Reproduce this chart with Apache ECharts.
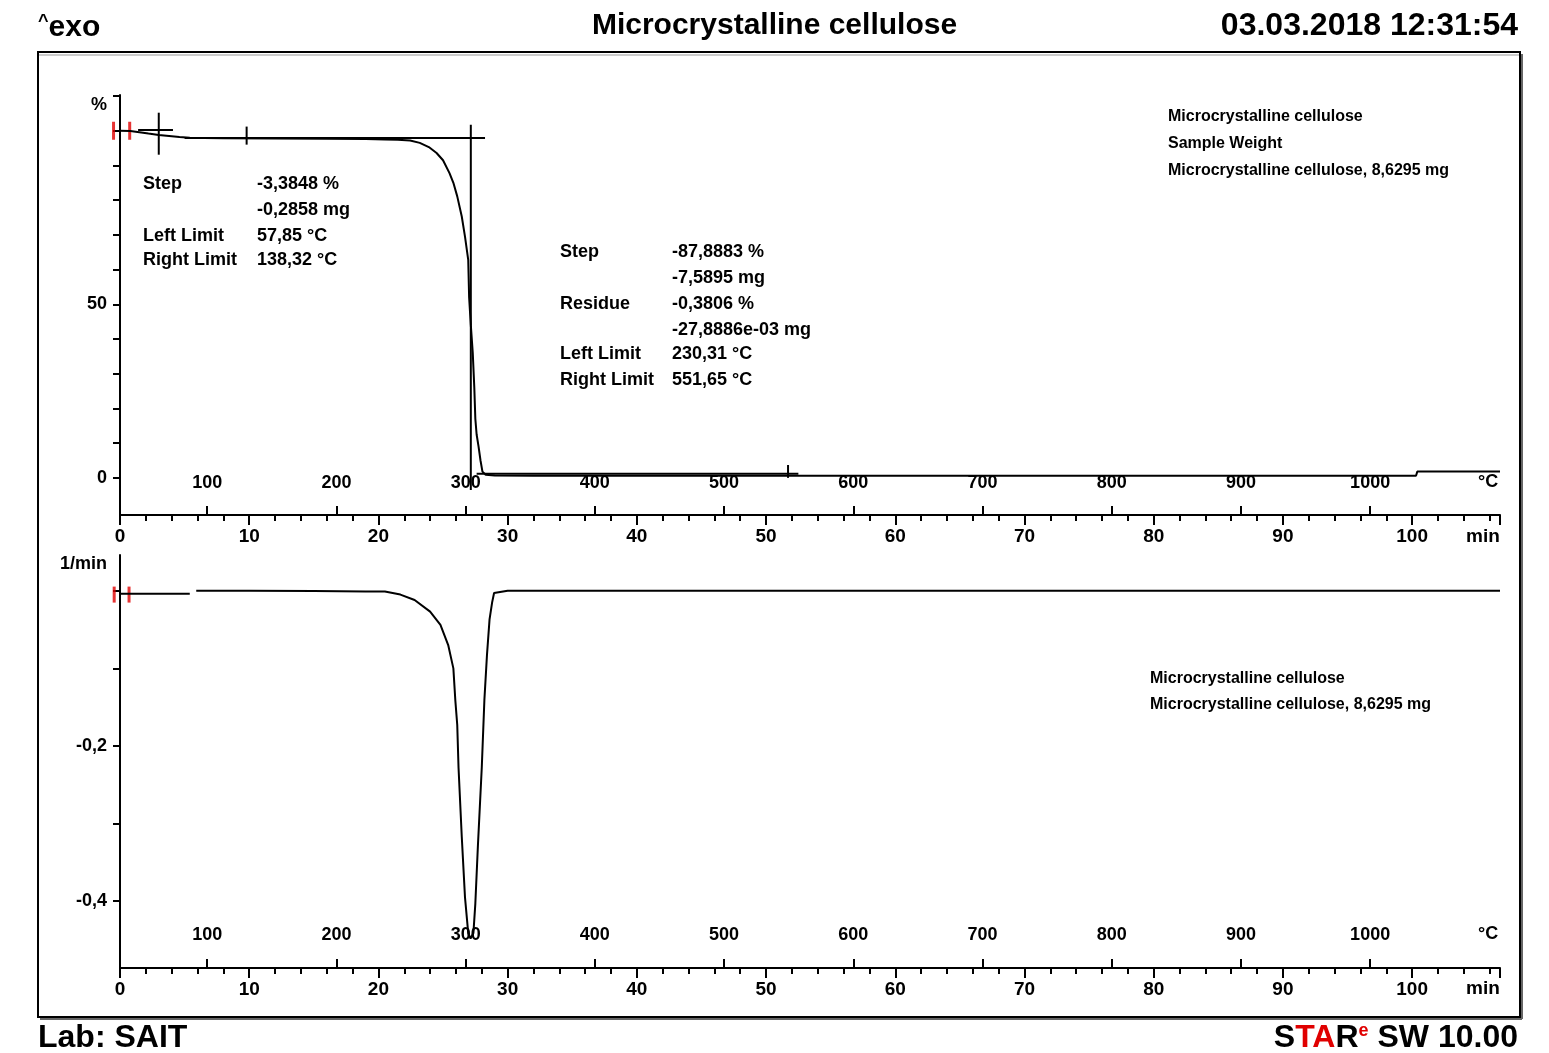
<!DOCTYPE html>
<html><head><meta charset="utf-8">
<script src="https://cdn.jsdelivr.net/npm/echarts@6/dist/echarts.min.js"></script>
<style>html,body{margin:0;padding:0;background:#fff}#c{width:1549px;height:1053px}</style>
</head><body><div id="c"></div>
<script>
// ---------- data ----------
const timeLabels = [0,10,20,30,40,50,60,70,80,90,100];
const timeMinorTicks = [0,2,4,6,8,10,12,14,16,18,20,22,24,26,28,30,32,34,36,38,40,42,44,46,48,50,52,54,56,58,60,62,64,66,68,70,72,74,76,78,80,82,84,86,88,90,92,94,96,98,100,102,104,106];
const tempLabels = [100,200,300,400,500,600,700,800,900,1000];
const tStart = 32.5;        // °C at 0 min
const heatRate = 10;        // K/min
const tMax = 106.8;         // min at right end
const massTicks = [0,10,20,30,40,50,60,70,80,90,100,110];
const massLabels = [0,50];
const rateTicks = [-0.4,-0.3,-0.2,-0.1,0];
const rateLabels = [-0.4,-0.2];

const tgaTime = [-1.0,0,0.8,1.5,2.2,3.0,3.8,4.6,5.4,6.5,8,12,16,19,20.5,21.5,22.45,23.2,23.9,24.5,25.0,25.5,25.8,26.1,26.45,26.7,26.95,27.02,27.15,27.3,27.42,27.5,27.6,27.75,27.9,28.05,28.3,29,32,40,50,60,70,80,90,100.3,100.4,106.8];
const tgaMass = [100.0,100.0,99.9,99.6,99.2,98.8,98.5,98.2,98.0,97.9,97.85,97.8,97.7,97.6,97.5,97.4,97.2,96.5,95.3,93.6,91.5,87.8,85.0,81.1,75.3,69.5,62.8,52.0,44.0,36.0,26.0,17.0,12.5,9.0,5.0,1.8,0.9,0.7,0.6,0.6,0.6,0.6,0.6,0.6,0.6,0.6,1.8,1.8];

const dtgTime = [-1.0,0,2,4,5.4,5.6,5.9,10,15,19,20.5,21.7,22.8,24.0,24.8,25.4,25.8,25.95,26.1,26.2,26.45,26.7,26.95,27.13,27.35,27.5,27.7,28.0,28.2,28.4,28.6,28.8,28.95,30,40,60,80,100,106.8];
const dtgRate = [-0.004,-0.004,-0.004,-0.004,-0.004,null,0.0,0.0,-0.0005,-0.001,-0.001,-0.005,-0.012,-0.027,-0.044,-0.070,-0.100,-0.141,-0.173,-0.228,-0.317,-0.395,-0.441,-0.448,-0.441,-0.403,-0.328,-0.227,-0.141,-0.083,-0.037,-0.015,-0.003,0.0,0.0,0.0,0.0,0.0,0.0];

// evaluation marker segments on the TGA panel: [t1, v1, t2, v2]
const evalSegments = [
  [1.4,100.2,4.1,100.2],
  [3.0,93.1,3.0,105.2],
  [9.8,96.0,9.8,101.2],
  [5.0,97.9,28.25,97.9],
  [27.15,-3.5,27.15,101.7],
  [27.6,1.2,52.5,1.2],
  [51.7,0.0,51.7,3.7]
];
const tgaRedMarks = [[-0.5,100],[0.75,100]];
const dtgRedMarks = [[-0.45,-0.005],[0.7,-0.005]];

// ---------- chart ----------
const FONT = 'Liberation Sans';
const black = '#000';
const chart = echarts.init(document.getElementById('c'), null, {renderer:'canvas'});

function timeAxis(grid){
  return {gridIndex:grid,type:'value',position:'bottom',min:0,max:tMax,interval:10,
    axisLine:{onZero:false,lineStyle:{color:black,width:2}},
    axisTick:{length:10,lineStyle:{color:black,width:2}},
    axisLabel:{color:black,fontFamily:FONT,fontWeight:'bold',fontSize:19,margin:12,
      customValues:timeLabels,formatter:v=>String(v)},
    splitLine:{show:false}};
}
function minorAxis(grid){
  return {gridIndex:grid,type:'value',position:'bottom',min:0,max:tMax,
    axisLine:{show:false,onZero:false},
    axisTick:{length:6,customValues:timeMinorTicks,lineStyle:{color:black,width:2}},
    axisLabel:{show:false},splitLine:{show:false}};
}
function tempAxis(grid,margin){
  return {gridIndex:grid,type:'value',position:'bottom',min:tStart,max:tStart+heatRate*tMax,
    axisLine:{show:false,onZero:false},
    axisTick:{inside:true,length:9,customValues:tempLabels,lineStyle:{color:black,width:2}},
    axisLabel:{inside:true,margin:margin,customValues:tempLabels,color:black,fontFamily:FONT,fontWeight:'bold',fontSize:18,
      formatter:v=>String(v)},
    splitLine:{show:false}};
}
const xAxes = [timeAxis(0),minorAxis(0),tempAxis(0,23),timeAxis(1),minorAxis(1),tempAxis(1,24)];

const yAxes = [
  {gridIndex:0,type:'value',min:-10.7,max:110.3,
    axisLine:{onZero:false,lineStyle:{color:black,width:2}},
    axisTick:{length:7,customValues:massTicks,lineStyle:{color:black,width:2}},
    axisLabel:{customValues:massLabels.concat([107.5]),margin:13,color:black,fontFamily:FONT,fontWeight:'bold',fontSize:18,
      formatter:v=>v>100?'%':String(v)},
    splitLine:{show:false}},
  {gridIndex:1,type:'value',min:-0.486,max:0.046,
    axisLine:{onZero:false,lineStyle:{color:black,width:2}},
    axisTick:{length:7,customValues:rateTicks,lineStyle:{color:black,width:2}},
    axisLabel:{customValues:rateLabels.concat([0.034]),margin:13,color:black,fontFamily:FONT,fontWeight:'bold',fontSize:18,
      formatter:v=>v>0?'1/min':v.toFixed(1).replace('.',',')},
    splitLine:{show:false}}
];

const series = [];
series.push({type:'line',xAxisIndex:0,yAxisIndex:0,data:tgaTime.map((t,i)=>[t,tgaMass[i]]),
  showSymbol:false,clip:false,lineStyle:{color:black,width:2},silent:true});
evalSegments.forEach(s=>{
  series.push({type:'line',xAxisIndex:0,yAxisIndex:0,data:[[s[0],s[1]],[s[2],s[3]]],
    showSymbol:false,clip:false,lineStyle:{color:black,width:2},silent:true});
});
series.push({type:'scatter',xAxisIndex:0,yAxisIndex:0,data:tgaRedMarks,symbol:'rect',symbolSize:[3,18],clip:false,itemStyle:{color:'#e00000'},silent:true});
series.push({type:'line',xAxisIndex:3,yAxisIndex:1,data:dtgTime.map((t,i)=>[t,dtgRate[i]===null?'-':dtgRate[i]]),
  showSymbol:false,clip:false,connectNulls:false,lineStyle:{color:black,width:2},silent:true});
series.push({type:'scatter',xAxisIndex:3,yAxisIndex:1,data:dtgRedMarks,symbol:'rect',symbolSize:[3,16],clip:false,itemStyle:{color:'#e00000'},silent:true});

function txt(left,top,text,size,extra){
  return Object.assign({type:'text',left:left,top:top,style:{text:text,fill:black,font:'bold '+size+'px "'+FONT+'"'}},extra||{});
}
const graphics = [
  {type:'rect',shape:{x:38,y:52,width:1482,height:965},style:{fill:null,stroke:'#000',lineWidth:2}},
  {type:'line',shape:{x1:1522,y1:54,x2:1522,y2:1019},style:{stroke:'#666',lineWidth:2}},
  {type:'line',shape:{x1:40,y1:1019,x2:1522,y2:1019},style:{stroke:'#666',lineWidth:2}},
  {type:'line',shape:{x1:39,y1:55,x2:1519,y2:55},style:{stroke:'#999',lineWidth:1}},
  // header
  {type:'text',left:38,top:13,style:{rich:{s:{font:'bold 18px "'+FONT+'"',fill:black,verticalAlign:'top'},b:{font:'bold 30px "'+FONT+'"',fill:black}},text:'{s|^}{b|exo}'}},
  {type:'text',left:'center',top:11,style:{text:'Microcrystalline cellulose',fill:black,font:'bold 30px "'+FONT+'"'}},
  {type:'text',right:31,top:10,style:{text:'03.03.2018 12:31:54',fill:black,font:'bold 32px "'+FONT+'"'}},
  // footer
  txt(38,1022,'Lab: SAIT',32),
  {type:'text',right:31,top:1022,style:{rich:{k:{font:'bold 32px "'+FONT+'"',fill:black},r:{font:'bold 32px "'+FONT+'"',fill:'#e00000'},e:{font:'bold 18px "'+FONT+'"',fill:'#e00000',verticalAlign:'top'}},text:'{k|S}{r|TA}{k|R}{e|e}{k| SW 10.00}'}},
  // units on time / temperature rows
  txt(1466,527,'min',19), txt(1478,473,'°C',18),
  txt(1466,979,'min',19), txt(1478,925,'°C',18),
  // top-right info
  txt(1168,109,'Microcrystalline cellulose',16),
  txt(1168,136,'Sample Weight',16),
  txt(1168,163,'Microcrystalline cellulose, 8,6295 mg',16),
  // lower-right info
  txt(1150,671,'Microcrystalline cellulose',16),
  txt(1150,697,'Microcrystalline cellulose, 8,6295 mg',16),
  // step 1 evaluation
  txt(143,175,'Step',18), txt(257,175,'-3,3848 %',18),
  txt(257,201,'-0,2858 mg',18),
  txt(143,227,'Left Limit',18), txt(257,227,'57,85 °C',18),
  txt(143,251,'Right Limit',18), txt(257,251,'138,32 °C',18),
  // step 2 evaluation
  txt(560,243,'Step',18), txt(672,243,'-87,8883 %',18),
  txt(672,269,'-7,5895 mg',18),
  txt(560,295,'Residue',18), txt(672,295,'-0,3806 %',18),
  txt(672,321,'-27,8886e-03 mg',18),
  txt(560,345,'Left Limit',18), txt(672,345,'230,31 °C',18),
  txt(560,371,'Right Limit',18), txt(672,371,'551,65 °C',18)
];

chart.setOption({
  animation:false,
  backgroundColor:'#fff',
  grid:[
    {left:120,top:95,width:1380,height:420,outerBoundsMode:'none',containLabel:false},
    {left:120,top:555,width:1380,height:413,outerBoundsMode:'none',containLabel:false}
  ],
  xAxis:xAxes,
  yAxis:yAxes,
  series:series,
  graphic:graphics
});
</script></body></html>
